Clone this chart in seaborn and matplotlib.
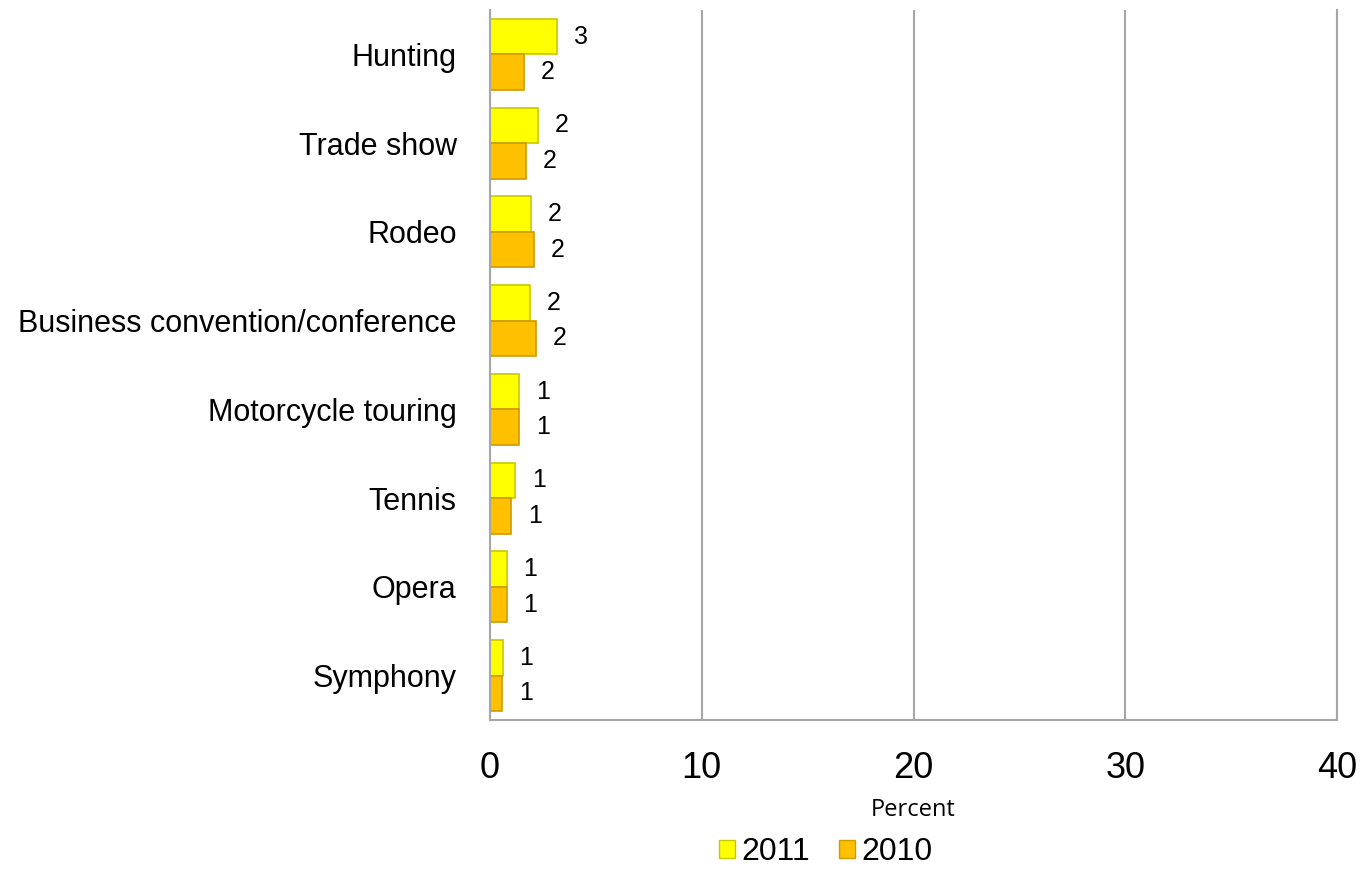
import matplotlib
matplotlib.use('Agg')
import matplotlib.pyplot as plt
from matplotlib.patches import Patch
import pandas as pd
import seaborn as sns

# Data (percent)
categories = ['Hunting', 'Trade show', 'Rodeo', 'Business convention/conference',
              'Motorcycle touring', 'Tennis', 'Opera', 'Symphony']
values_2011 = [3.16, 2.27, 1.93, 1.89, 1.37, 1.18, 0.80, 0.61]
values_2010 = [1.60, 1.70, 2.08, 2.17, 1.37, 0.99, 0.80, 0.57]
years = ['2011', '2010']
x_ticks = [0, 10, 20, 30, 40]

df = pd.DataFrame({
    'activity': categories * 2,
    'percent': values_2011 + values_2010,
    'year': [years[0]] * len(categories) + [years[1]] * len(categories),
})

sns.set_style('white')
plt.rcParams['font.family'] = ['Liberation Sans', 'DejaVu Sans']
plt.rcParams['text.color'] = 'black'
plt.rcParams['xtick.color'] = 'black'
plt.rcParams['ytick.color'] = 'black'
plt.rcParams['axes.labelcolor'] = 'black'

bar_colors = ['#FFFF00', '#FFC000']
edge_colors = ['#C8C800', '#D09A00']

fig = plt.figure(figsize=(13.64, 8.72), dpi=100)
ax = fig.add_axes([490 / 1364, 1 - 720 / 872, 847 / 1364, 710 / 872])

sns.barplot(data=df, x='percent', y='activity', hue='year', hue_order=years,
            orient='h', palette=bar_colors, saturation=1, width=0.8,
            legend=False, ax=ax)

# edges + value labels
for cont, ec, vals in zip(ax.containers, edge_colors, [values_2011, values_2010]):
    for p in cont:
        p.set_edgecolor(ec)
        p.set_linewidth(1.2)
    ax.bar_label(cont, labels=[f'{v:.0f}' for v in vals], padding=12, fontsize=18)

ax.set_xlim(0, 40)
ax.set_xticks(x_ticks)
ax.xaxis.grid(True, color='#A6A6A6', lw=1.5)
ax.set_axisbelow(True)
for side in ['left', 'bottom', 'right']:
    ax.spines[side].set_color('#A6A6A6')
    ax.spines[side].set_linewidth(1.5)
ax.spines['top'].set_visible(False)

ax.tick_params(axis='x', labelsize=26, pad=22, length=0)
ax.tick_params(axis='y', labelsize=22, pad=24, length=0)
ax.set_ylabel('')
ax.set_xlabel('Percent', fontsize=17, family=['Open Sans', 'DejaVu Sans'], labelpad=9)

handles = [Patch(facecolor=c, edgecolor=e) for c, e in zip(bar_colors, edge_colors)]
fig.legend(handles, years, loc='center', bbox_to_anchor=(826 / 1364, 1 - 852 / 872),
           ncol=2, frameon=False, fontsize=23, handlelength=0.5, handleheight=0.5,
           handletextpad=0.2, columnspacing=0.9)

fig.savefig('out.png', dpi=100)
